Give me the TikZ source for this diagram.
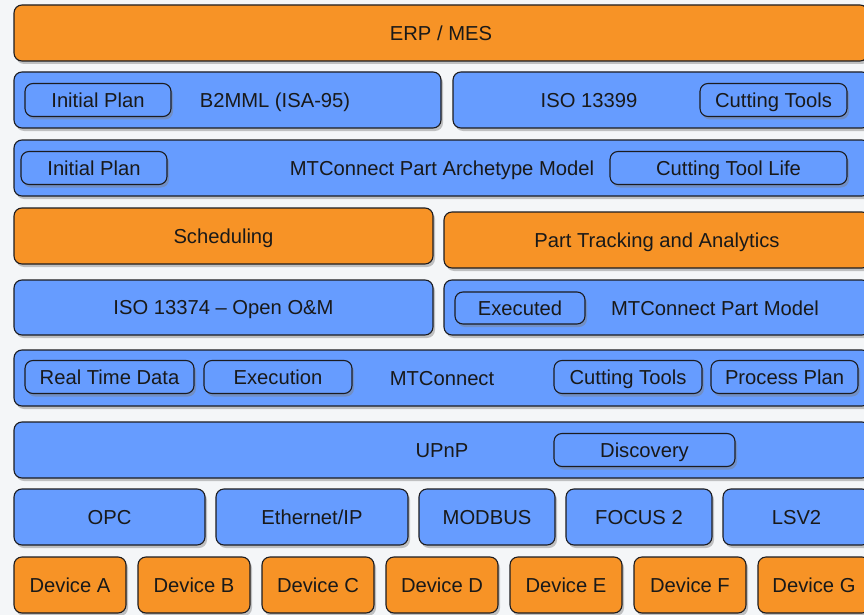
\documentclass[tikz,border=0pt]{standalone}
\usepackage{fontspec}
\setmainfont{Liberation Sans}
\usetikzlibrary{shadows}

\definecolor{layerorange}{RGB}{247,147,38}
\definecolor{layerblue}{RGB}{102,156,255}
\definecolor{edgegrey}{RGB}{28,28,32}
\definecolor{paper}{RGB}{244,246,248}

\begin{document}
\begin{tikzpicture}[x=1pt, y=-1pt, font=\fontsize{20.2}{24}\selectfont, text=black!90,
    every node/.style={text height=14.4pt, text depth=0pt},
    layer/.style={draw=edgegrey, line width=1.1pt, rounded corners=8pt, inner sep=0pt,
      drop shadow={shadow xshift=2pt, shadow yshift=-3pt, opacity=0.45}},
    orangelayer/.style={layer, fill=layerorange, minimum height=56pt},
    bluelayer/.style={layer, fill=layerblue, minimum height=56pt},
    tag/.style={layer, fill=layerblue, minimum height=33pt}]

      % page (pixel grid of the slide, y going down)
      \useasboundingbox (0,0) rectangle (864,615);
      \fill[paper] (0,0) rectangle (864,615);

      % top level
      \node[orangelayer, minimum width=854pt] (erp) at (441,33) {ERP / MES};

      % B2MML and ISO 13399
      \node[bluelayer, minimum width=427pt] (b2mml) at (227.5,100) {};
      \node[tag, minimum width=146pt] (planA) at (98,100) {Initial Plan};
      \node (b2mmltxt) at (275,100) {B2MML (ISA-95)};

      \node[bluelayer, minimum width=417pt] (iso13399) at (661.5,100) {};
      \node (iso13399txt) at (589,100) {ISO 13399};
      \node[tag, minimum width=147pt] (toolsA) at (773.5,100) {Cutting Tools};

      % part archetype
      \node[bluelayer, minimum width=856pt] (archetype) at (442,168) {MTConnect Part Archetype Model};
      \node[tag, minimum width=146pt] (planB) at (94,168) {Initial Plan};
      \node[tag, minimum width=237pt] (toollife) at (728.5,168) {Cutting Tool Life};

      % applications
      \node[orangelayer, minimum width=419pt] (sched) at (223.5,236) {Scheduling};
      \node[orangelayer, minimum width=426pt] (tracking) at (657,240) {Part Tracking and Analytics};

      % O&M and part model
      \node[bluelayer, minimum width=419pt, minimum height=55pt] (iso13374) at (223.5,307.5) {ISO 13374 -- Open O\&M};
      \node[bluelayer, minimum width=426pt, minimum height=55pt] (partmodel) at (657,307.5) {};
      \node[tag, minimum width=130pt, minimum height=32pt] (executed) at (520,308) {Executed};
      \node (partmodeltxt) at (715,308) {MTConnect Part Model};

      % MTConnect
      \node[bluelayer, minimum width=856pt] (mtc) at (442,378) {MTConnect};
      \node[tag, minimum width=169pt] (rtdata) at (109.5,377) {Real Time Data};
      \node[tag, minimum width=148pt] (exec) at (278,377) {Execution};
      \node[tag, minimum width=148pt] (toolsB) at (628,377) {Cutting Tools};
      \node[tag, minimum width=147pt] (procplan) at (784.5,377) {Process Plan};

      % UPnP
      \node[bluelayer, minimum width=856pt] (upnp) at (442,450) {UPnP};
      \node[tag, minimum width=181pt] (discovery) at (644.5,450) {Discovery};

      % protocols
      \node[bluelayer, minimum width=191pt] (opc) at (109.5,517) {OPC};
      \node[bluelayer, minimum width=192pt] (ethip) at (312,517) {Ethernet/IP};
      \node[bluelayer, minimum width=136pt] (modbus) at (487,517) {MODBUS};
      \node[bluelayer, minimum width=146pt] (focus) at (639,517) {FOCUS 2};
      \node[bluelayer, minimum width=147pt] (lsv) at (796.5,517) {LSV2};

      % devices
      \foreach \dev [count=\i from 0] in {A,B,C,D,E,F,G}
        \node[orangelayer, minimum width=112pt] (dev\dev) at ({70+124*\i},585) {Device \dev};

\end{tikzpicture}
\end{document}
